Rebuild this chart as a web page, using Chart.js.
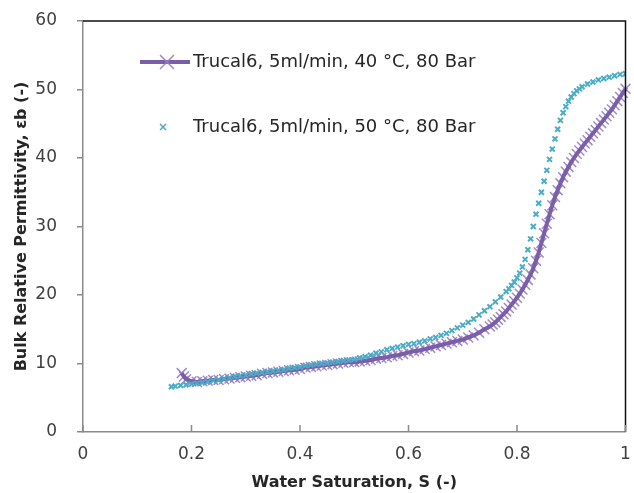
<!DOCTYPE html>
<html>
<head>
<meta charset="utf-8">
<script src="https://cdn.jsdelivr.net/npm/chart.js@4.4.1/dist/chart.umd.min.js"></script>
<style>
  html, body { margin: 0; padding: 0; background: #fff; }
</style>
</head>
<body>
<canvas id="permChart" width="634" height="493"></canvas>
<script>
// Trucal6, 5ml/min, 40 °C, 80 Bar
const satA = [0.182, 0.186, 0.19, 0.20, 0.21, 0.22, 0.23, 0.24, 0.25, 0.26, 0.27, 0.28, 0.29, 0.30,
  0.31, 0.32, 0.33, 0.34, 0.35, 0.36, 0.37, 0.38, 0.39, 0.40, 0.41, 0.42, 0.43, 0.44, 0.45, 0.46,
  0.47, 0.48, 0.49, 0.50, 0.51, 0.52, 0.53, 0.54, 0.55, 0.56, 0.57, 0.58, 0.59, 0.60, 0.61, 0.62,
  0.63, 0.64, 0.65, 0.66, 0.67, 0.68, 0.69, 0.70, 0.71, 0.72, 0.73, 0.74, 0.75, 0.755, 0.76, 0.765,
  0.77, 0.775, 0.78, 0.785, 0.79, 0.795, 0.80, 0.805, 0.81, 0.815, 0.82, 0.825, 0.83, 0.835, 0.84,
  0.845, 0.85, 0.855, 0.86, 0.865, 0.87, 0.875, 0.88, 0.885, 0.89, 0.895, 0.90, 0.905, 0.91, 0.915,
  0.92, 0.925, 0.93, 0.935, 0.94, 0.945, 0.95, 0.955, 0.96, 0.965, 0.97, 0.975, 0.98, 0.985, 0.99,
  0.995, 1.00, 1.005];
const epsA = [8.6, 8.1, 7.7, 7.4, 7.3, 7.4, 7.5, 7.6, 7.6, 7.7, 7.8, 7.9, 8.0, 8.1,
  8.2, 8.3, 8.5, 8.6, 8.7, 8.8, 8.9, 9.0, 9.1, 9.2, 9.4, 9.5, 9.6, 9.7, 9.8, 9.9,
  10.0, 10.1, 10.2, 10.2, 10.3, 10.4, 10.5, 10.7, 10.8, 10.9, 11.1, 11.2, 11.4, 11.6, 11.8, 11.9,
  12.1, 12.3, 12.5, 12.7, 12.9, 13.1, 13.3, 13.5, 13.8, 14.1, 14.5, 15.0, 15.4, 15.7, 16.0, 16.4,
  16.8, 17.2, 17.6, 18.1, 18.6, 19.1, 19.6, 20.2, 20.8, 21.5, 22.2, 23.0, 23.9, 25.0, 26.2,
  27.6, 29.0, 30.4, 31.8, 33.1, 34.3, 35.3, 36.3, 37.2, 38.0, 38.7, 39.4, 40.0, 40.6, 41.1,
  41.6, 42.1, 42.6, 43.1, 43.6, 44.1, 44.6, 45.1, 45.6, 46.1, 46.6, 47.1, 47.7, 48.3, 48.9,
  49.5, 50.1, 50.7];

// Trucal6, 5ml/min, 50 °C, 80 Bar
const satB = [0.163, 0.17, 0.18, 0.19, 0.20, 0.21, 0.22, 0.23, 0.24, 0.25, 0.26, 0.27, 0.28, 0.29,
  0.30, 0.31, 0.32, 0.33, 0.34, 0.35, 0.36, 0.37, 0.38, 0.39, 0.40, 0.41, 0.42, 0.43, 0.44, 0.45,
  0.46, 0.47, 0.48, 0.49, 0.50, 0.51, 0.52, 0.53, 0.54, 0.55, 0.56, 0.57, 0.58, 0.59, 0.60, 0.61,
  0.62, 0.63, 0.64, 0.65, 0.66, 0.67, 0.68, 0.69, 0.70, 0.71, 0.72, 0.73, 0.74, 0.75, 0.76, 0.77,
  0.78, 0.785, 0.79, 0.795, 0.80, 0.805, 0.81, 0.815, 0.82, 0.825, 0.83, 0.835, 0.84, 0.845, 0.85,
  0.855, 0.86, 0.865, 0.87, 0.875, 0.88, 0.885, 0.89, 0.895, 0.90, 0.905, 0.91, 0.915, 0.92, 0.93,
  0.94, 0.95, 0.96, 0.97, 0.98, 0.99, 1.00];
const epsB = [6.6, 6.7, 6.8, 6.9, 7.0, 7.1, 7.2, 7.3, 7.5, 7.6, 7.8, 7.9, 8.1, 8.2,
  8.3, 8.5, 8.6, 8.7, 8.8, 8.9, 9.0, 9.1, 9.3, 9.4, 9.5, 9.7, 9.8, 9.9, 10.0, 10.1,
  10.2, 10.3, 10.4, 10.5, 10.6, 10.8, 11.0, 11.2, 11.5, 11.7, 12.0, 12.2, 12.4, 12.6, 12.8, 12.9,
  13.1, 13.3, 13.6, 13.8, 14.1, 14.4, 14.8, 15.2, 15.6, 16.0, 16.5, 17.1, 17.7, 18.3, 19.0, 19.7,
  20.5, 20.9, 21.4, 21.9, 22.5, 23.2, 24.1, 25.2, 26.6, 28.2, 30.0, 31.8, 33.4, 35.0, 36.6,
  38.2, 39.8, 41.3, 42.8, 44.2, 45.5, 46.6, 47.5, 48.3, 48.9, 49.4, 49.8, 50.1, 50.4, 50.8,
  51.1, 51.4, 51.6, 51.8, 52.0, 52.2, 52.3];

const xTicks = [0, 0.2, 0.4, 0.6, 0.8, 1];
const labelA = 'Trucal6, 5ml/min, 40 °C, 80 Bar';
const labelB = 'Trucal6, 5ml/min, 50 °C, 80 Bar';

const purple = '#7b5ea8';
const purpleLight = 'rgba(150,125,195,0.9)';
const teal = '#4bacc6';
const axisGray = '#8a8a8a';
const font = '"DejaVu Sans", sans-serif';

const pointsA = satA.map((s, i) => ({ x: s, y: epsA[i] }));
const pointsB = satB.map((s, i) => ({ x: s, y: epsB[i] }));

// frame, inside x ticks, legend
const framePlugin = {
  id: 'frame',
  afterDatasetsDraw(chart) {
    const { ctx, chartArea: a, scales } = chart;
    ctx.save();
    // top and right border
    ctx.strokeStyle = '#111';
    ctx.lineWidth = 1.5;
    ctx.beginPath();
    ctx.moveTo(a.left, a.top);
    ctx.lineTo(a.right, a.top);
    ctx.lineTo(a.right, a.bottom);
    ctx.stroke();
    // x tick marks pointing up into the plot
    ctx.strokeStyle = axisGray;
    ctx.lineWidth = 1.5;
    xTicks.forEach(v => {
      const px = scales.x.getPixelForValue(v);
      ctx.beginPath();
      ctx.moveTo(px, a.bottom);
      ctx.lineTo(px, a.bottom - 7);
      ctx.stroke();
    });

    // legend
    ctx.font = '18px ' + font;
    ctx.fillStyle = '#262626';
    ctx.textBaseline = 'middle';
    ctx.textAlign = 'left';
    // row 1
    const y1 = 62;
    ctx.strokeStyle = purple;
    ctx.lineWidth = 4;
    ctx.beginPath();
    ctx.moveTo(140, y1);
    ctx.lineTo(190, y1);
    ctx.stroke();
    ctx.strokeStyle = purpleLight;
    ctx.lineWidth = 1.5;
    ctx.beginPath();
    ctx.moveTo(160, y1 - 7); ctx.lineTo(174, y1 + 7);
    ctx.moveTo(160, y1 + 7); ctx.lineTo(174, y1 - 7);
    ctx.stroke();
    ctx.fillText(labelA, 193, y1);
    // row 2
    const y2 = 127;
    ctx.strokeStyle = teal;
    ctx.lineWidth = 1.5;
    ctx.beginPath();
    ctx.moveTo(160, y2 - 3); ctx.lineTo(166, y2 + 3);
    ctx.moveTo(160, y2 + 3); ctx.lineTo(166, y2 - 3);
    ctx.stroke();
    ctx.fillText(labelB, 193, y2);
    ctx.restore();
  }
};

const ctx = document.getElementById('permChart').getContext('2d');

new Chart(ctx, {
  type: 'scatter',
  data: {
    datasets: [
      {
        label: labelB,
        data: pointsB,
        showLine: false,
        pointStyle: 'crossRot',
        pointRadius: 3.5,
        pointBorderColor: teal,
        pointBorderWidth: 2,
        order: 1
      },
      {
        label: labelA,
        data: pointsA,
        showLine: true,
        borderColor: purple,
        borderWidth: 4,
        pointRadius: 0,
        clip: 8,
        order: 2
      },
      {
        label: labelA + ' markers',
        data: pointsA,
        showLine: false,
        pointStyle: 'crossRot',
        pointRadius: 7,
        pointBorderColor: purpleLight,
        pointBorderWidth: 1.5,
        clip: 8,
        order: 3
      }
    ]
  },
  options: {
    responsive: false,
    animation: false,
    devicePixelRatio: 1,
    layout: { padding: { top: 21, right: 7, left: 0, bottom: 0 } },
    plugins: {
      legend: { display: false },
      tooltip: { enabled: false }
    },
    scales: {
      x: {
        type: 'linear',
        min: 0,
        max: 1,
        afterFit: s => { s.height = 61; s.paddingLeft = 0; s.paddingRight = 0; },
        afterBuildTicks: s => { s.ticks = xTicks.map(v => ({ value: v })); },
        ticks: {
          padding: 12,
          color: '#404040',
          font: { family: font, size: 17 },
          callback: v => String(v)
        },
        grid: { drawOnChartArea: false, drawTicks: false },
        border: { color: axisGray, width: 1.5 },
        title: {
          display: true,
          text: 'Water Saturation, S (-)',
          color: '#262626',
          font: { family: font, size: 16, weight: 'bold' },
          padding: { top: 0, bottom: 1 }
        }
      },
      y: {
        min: 0,
        max: 60,
        afterFit: s => { s.width = 83; s.paddingTop = 0; s.paddingBottom = 0; },
        ticks: {
          stepSize: 10,
          padding: 20,
          color: '#404040',
          font: { family: font, size: 17 }
        },
        grid: { drawOnChartArea: false, drawTicks: true, tickLength: 6, color: axisGray, lineWidth: 1.5 },
        border: { color: axisGray, width: 1.5 },
        title: {
          display: true,
          text: 'Bulk Relative Permittivity, εb (-)',
          color: '#262626',
          font: { family: font, size: 16, weight: 'bold' },
          padding: { top: 12, bottom: 0 }
        }
      }
    }
  },
  plugins: [framePlugin]
});
</script>
</body>
</html>
